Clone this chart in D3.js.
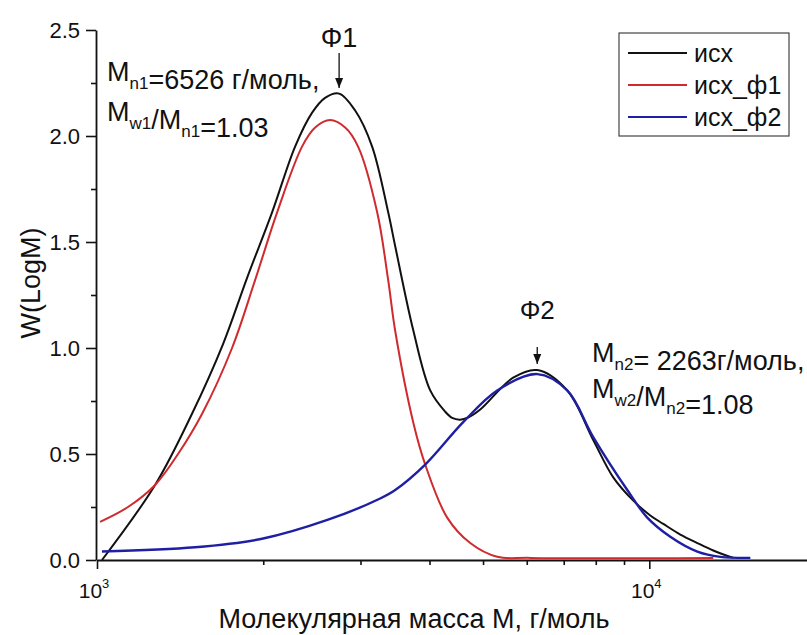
<!DOCTYPE html>
<html>
<head>
<meta charset="utf-8">
<script src="https://cdn.jsdelivr.net/npm/d3@7"></script>
<style>
  body { margin: 0; background: #fff; }
  svg text { font-family: "Liberation Sans", Arial, sans-serif; fill: #111; }
</style>
</head>
<body>
<div id="chart"></div>
<script>
const width = 807
const height = 635

// molar mass (г/моль) and W(LogM)
const massIsx = [1021, 1274, 1486, 1692, 1869, 2075, 2284, 2452, 2588, 2744, 2934, 3149, 3367, 3467, 3737, 4012, 4269, 4396, 4545, 4699, 4942, 5669, 6268, 7102, 7916, 8605, 9355, 10042, 10603, 11381, 12218, 13059, 14200]
const wIsx    = [0.0, 0.354, 0.69, 1.02, 1.33, 1.64, 1.95, 2.11, 2.18, 2.20, 2.12, 1.95, 1.64, 1.48, 1.085, 0.80, 0.70, 0.67, 0.662, 0.672, 0.71, 0.86, 0.896, 0.80, 0.566, 0.39, 0.28, 0.21, 0.17, 0.12, 0.08, 0.045, 0.01]

const massF1 = [1013, 1138, 1274, 1402, 1550, 1756, 1933, 2119, 2351, 2483, 2643, 2814, 2970, 3216, 3367, 3467, 3737, 3929, 4306, 4740, 5305, 6087, 13059]
const wF1    = [0.18, 0.25, 0.354, 0.50, 0.69, 1.0, 1.32, 1.64, 1.95, 2.04, 2.075, 2.04, 1.95, 1.64, 1.32, 1.08, 0.65, 0.45, 0.20, 0.08, 0.015, 0.01, 0.01]

const massF2 = [1021, 1505, 1990, 2621, 3256, 3467, 3929, 4603, 5305, 6268, 7102, 7916, 9124, 9917, 10915, 12218, 13450, 15240]
const wF2    = [0.04, 0.06, 0.10, 0.19, 0.29, 0.33, 0.45, 0.65, 0.80, 0.877, 0.80, 0.58, 0.33, 0.20, 0.11, 0.04, 0.015, 0.01]

const seriesNames = ["исх", "исх_ф1", "исх_ф2"]
const seriesColors = ["#111111", "#cf2a2e", "#1f1fa3"]

const xMajor = [1000, 10000]
const xMinor = [2000, 3000, 4000, 5000, 6000, 7000, 8000, 9000]
const yMajor = [0, 0.5, 1.0, 1.5, 2.0, 2.5]
const yMinor = [0.25, 0.75, 1.25, 1.75, 2.25]

const svg = d3.select("div#chart").append("svg").attr("width", width).attr("height", height)

const x = d3.scaleLog().domain([1000, 19300]).range([97, 807])
const y = d3.scaleLinear().domain([0, 2.5]).range([560, 30])

// axes
const xAxisGroup = svg.append("g").attr("transform", `translate(0, ${y(0)})`)
const xAxisMinor = svg.append("g").attr("transform", `translate(0, ${y(0)})`)
const yAxisGroup = svg.append("g").attr("transform", `translate(${x(1000) - 1}, 0)`)
const yAxisMinor = svg.append("g").attr("transform", `translate(${x(1000) - 1}, 0)`)

xAxisGroup.call(d3.axisBottom(x).tickValues(xMajor).tickSize(9).tickSizeOuter(0).tickFormat(""))
xAxisMinor.call(d3.axisBottom(x).tickValues(xMinor).tickSize(5).tickSizeOuter(0).tickFormat(""))
yAxisGroup.call(d3.axisLeft(y).tickValues(yMajor).tickSize(10).tickSizeOuter(0).tickFormat(d3.format(".1f")))
yAxisMinor.call(d3.axisLeft(y).tickValues(yMinor).tickSize(5).tickSizeOuter(0).tickFormat(""))

svg.selectAll(".domain").attr("stroke", "#111").attr("stroke-width", 1.8)
svg.selectAll(".tick line").attr("stroke", "#111").attr("stroke-width", 1.6)
xAxisMinor.select(".domain").remove()
yAxisMinor.select(".domain").remove()

yAxisGroup.selectAll(".tick text")
    .attr("font-size", 22).attr("x", -16).attr("dy", "0.36em")
    .style("font-family", "'Liberation Sans', Arial, sans-serif")

// 10^3, 10^4 labels
xMajor.forEach(v => {
    const t = svg.append("text")
        .attr("x", x(v) - 3).attr("y", 598)
        .attr("text-anchor", "middle")
        .style("font-size", "21px")
    t.append("tspan").text("10")
    t.append("tspan").style("font-size", "13px").attr("dy", -10).text(Math.round(Math.log10(v)))
})

// axis titles
svg.append("text")
    .attr("x", 414).attr("y", 628)
    .attr("text-anchor", "middle").attr("font-size", 27)
    .text("Молекулярная масса М, г/моль")

svg.append("text")
    .attr("transform", "translate(40, 283) rotate(-90)")
    .attr("text-anchor", "middle").attr("font-size", 27)
    .text("W(LogM)")

// curves
const line = d3.line()
    .x(d => x(d[0]))
    .y(d => y(d[1]))
    .curve(d3.curveCatmullRom.alpha(0.5))

const curves = [
    d3.zip(massIsx, wIsx),
    d3.zip(massF1, wF1),
    d3.zip(massF2, wF2)
]

const elementGroup = svg.append("g")
curves.forEach((c, i) => {
    elementGroup.append("path")
        .datum(c)
        .attr("d", line)
        .attr("fill", "none")
        .attr("stroke", seriesColors[i])
        .attr("stroke-width", i === 2 ? 2.4 : 2)
})

// legend
const legend = svg.append("g")
legend.append("rect")
    .attr("x", 619).attr("y", 33).attr("width", 170).attr("height", 103)
    .attr("fill", "#fff").attr("stroke", "#444").attr("stroke-width", 1.2)
seriesNames.forEach((name, i) => {
    const ly = 53 + i * 32
    legend.append("line")
        .attr("x1", 628).attr("x2", 687).attr("y1", ly).attr("y2", ly)
        .attr("stroke", seriesColors[i]).attr("stroke-width", 2)
    legend.append("text")
        .attr("x", 694).attr("y", ly + 9)
        .attr("font-size", 25)
        .text(name)
})

// arrows
svg.append("defs").append("marker")
    .attr("id", "arrow")
    .attr("viewBox", "0 0 10 10")
    .attr("refX", 10).attr("refY", 5)
    .attr("markerWidth", 10).attr("markerHeight", 10)
    .attr("markerUnits", "userSpaceOnUse")
    .attr("orient", "auto")
    .append("path").attr("d", "M0,1 L10,5 L0,9 Z").attr("fill", "#111")

function arrow(xv, y0, y1) {
    svg.append("line")
        .attr("x1", xv).attr("x2", xv).attr("y1", y0).attr("y2", y1)
        .attr("stroke", "#111").attr("stroke-width", 1.3)
        .attr("marker-end", "url(#arrow)")
}

arrow(x(2744), 53, 88)
arrow(x(6268), 347, 364)

svg.append("text").attr("x", x(2744)).attr("y", 47)
    .attr("text-anchor", "middle").attr("font-size", 27).text("Φ1")
svg.append("text").attr("x", x(6268)).attr("y", 319)
    .attr("text-anchor", "middle").attr("font-size", 26).text("Φ2")

// annotation helper: M with subscripts
function mText(px, py, parts) {
    const t = svg.append("text").attr("x", px).attr("y", py).attr("font-size", 27)
    parts.forEach(p => {
        if (p.sub) {
            t.append("tspan").attr("font-size", 17).attr("dy", 8).text(p.sub)
            t.append("tspan").attr("dy", -8).text("")
        } else {
            t.append("tspan").text(p.t)
        }
    })
}

mText(107, 81, [{t: "M"}, {sub: "n1"}, {t: "=6526 г/моль,"}])
mText(107, 121, [{t: "M"}, {sub: "w1"}, {t: "/M"}, {sub: "n1"}, {t: "=1.03"}])
mText(592, 362, [{t: "M"}, {sub: "n2"}, {t: "= 2263г/моль,"}])
mText(592, 398, [{t: "M"}, {sub: "w2"}, {t: "/M"}, {sub: "n2"}, {t: "=1.08"}])
</script>
</body>
</html>
